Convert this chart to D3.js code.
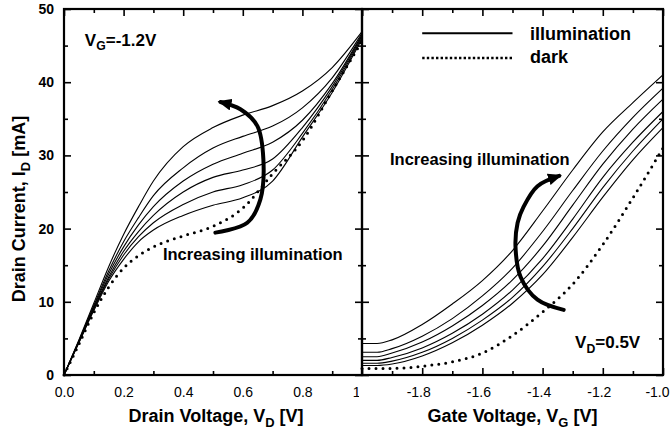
<!DOCTYPE html>
<html>
<head>
<meta charset="utf-8">
<script src="https://cdn.jsdelivr.net/npm/d3@7"></script>
<style>
body { margin: 0; background: #fff; }
text { font-family: "Liberation Sans", Arial, Helvetica, sans-serif; fill: #000; }
</style>
</head>
<body>
<svg id="chart" width="670" height="434"></svg>
<script>
// left panel: drain sweep at V_G = -1.2 V
var vd = [0, 0.05, 0.1, 0.15, 0.2, 0.25, 0.3, 0.4, 0.5, 0.6, 0.7, 0.8, 0.9, 1.0];
var idLight1 = [0, 4.4, 8.8, 12.8, 15.8, 18.2, 19.8, 21.8, 23.2, 24.2, 26.5, 32.5, 38.6, 45.9];
var idLight2 = [0, 4.5, 9.0, 13.1, 16.4, 18.9, 20.8, 23.3, 25.0, 26.0, 28.0, 33.0, 39.0, 46.1];
var idLight3 = [0, 4.5, 9.1, 13.4, 16.9, 19.6, 21.8, 25.0, 27.0, 28.0, 29.5, 33.8, 39.4, 46.3];
var idLight4 = [0, 4.6, 9.3, 13.8, 17.5, 20.5, 23.0, 26.5, 28.8, 30.3, 31.8, 34.8, 39.8, 46.5];
var idLight5 = [0, 4.7, 9.5, 14.2, 18.2, 21.5, 24.5, 28.3, 31.0, 32.6, 34.0, 36.5, 40.6, 46.7];
var idLight6 = [0, 4.8, 9.8, 14.8, 19.2, 23.0, 26.5, 31.2, 33.8, 35.5, 36.8, 38.8, 42.0, 46.9];
var idDark   = [0, 4.2, 8.5, 12.0, 14.6, 16.3, 17.5, 19.0, 20.3, 22.8, 27.5, 32.0, 38.8, 45.6];

// right panel: gate sweep at V_D = 0.5 V
var vg = [-2.0, -1.95, -1.9, -1.8, -1.7, -1.6, -1.5, -1.4, -1.3, -1.2, -1.1, -1.0];
var igLight1 = [1.3, 1.3, 1.5, 2.6, 4.4, 6.8, 9.8, 13.7, 18.8, 24.3, 29.4, 33.8];
var igLight2 = [1.6, 1.6, 1.9, 3.1, 5.0, 7.5, 10.6, 14.8, 20.0, 25.6, 30.6, 35.0];
var igLight3 = [2.0, 2.0, 2.4, 3.7, 5.7, 8.3, 11.6, 15.9, 21.3, 27.0, 31.8, 36.0];
var igLight4 = [2.5, 2.5, 3.0, 4.5, 6.7, 9.5, 13.0, 17.6, 23.2, 28.8, 33.6, 37.7];
var igLight5 = [3.1, 3.1, 3.6, 5.3, 7.7, 10.8, 14.6, 19.6, 25.2, 30.6, 35.2, 39.2];
var igLight6 = [4.3, 4.3, 4.8, 6.9, 9.7, 12.9, 17.0, 22.4, 28.0, 33.2, 37.2, 41.0];
var igDark   = [0.9, 0.9, 0.9, 1.2, 1.8, 3.0, 5.4, 8.6, 12.4, 17.8, 24.2, 31.0];

// ticks
var vdTicks = [0, 0.2, 0.4, 0.6, 0.8, 1.0];
var vdTickLabels = ["0.0", "0.2", "0.4", "0.6", "0.8", "1.0"];
var vdMinor = [0.1, 0.3, 0.5, 0.7, 0.9];
var vgTicks = [-2.0, -1.8, -1.6, -1.4, -1.2, -1.0];
var vgTickLabels = ["", "-1.8", "-1.6", "-1.4", "-1.2", "-1.0"];
var vgMinor = [-1.9, -1.7, -1.5, -1.3, -1.1];
var idTicks = [0, 10, 20, 30, 40, 50];
var idMinor = [5, 15, 25, 35, 45];

// curved "increasing illumination" arrows (data units)
var arrowLeft = [[0.508, 19.45], [0.615, 20.8], [0.659, 24], [0.669, 29.5], [0.649, 34], [0.592, 36.3], [0.525, 37.3]];
var arrowRight = [[-1.33, 8.9], [-1.417, 10.3], [-1.473, 13.4], [-1.49, 17.5], [-1.483, 20.8], [-1.463, 23], [-1.417, 25.8], [-1.345, 27.2]];

var svg = d3.select("#chart");
svg.append("rect").attr("width", 670).attr("height", 434).attr("fill", "#fff");

var xL = d3.scaleLinear().domain([0, 1]).range([64, 362]);
var xR = d3.scaleLinear().domain([-2, -1]).range([362, 663]);
var y = d3.scaleLinear().domain([0, 50]).range([375, 9]);

var defs = svg.append("defs");
defs.append("clipPath").attr("id", "leftLabels")
  .append("rect").attr("x", 0).attr("y", 0).attr("width", 359).attr("height", 434);
defs.append("marker")
  .attr("id", "head")
  .attr("markerUnits", "userSpaceOnUse")
  .attr("viewBox", "0 -6 14 12")
  .attr("refX", 11).attr("refY", 0)
  .attr("markerWidth", 14).attr("markerHeight", 12)
  .attr("orient", "auto")
  .append("path").attr("d", "M0,-6L14,0L0,6Z").attr("fill", "#000");

function styleAxis(g, fontSize, bold) {
  g.select(".domain").remove();
  g.selectAll(".tick line").attr("stroke", "#000").attr("stroke-width", 1.6);
  g.selectAll("text")
    .style("font-size", fontSize + "px")
    .style("font-weight", bold ? "bold" : "normal")
    .attr("fill", "#000");
}

function noLabel() { return ""; }

// ---- left panel axes ----
var gxL = svg.append("g").attr("transform", "translate(0,375)").attr("clip-path", "url(#leftLabels)")
  .call(d3.axisBottom(xL).tickValues(vdTicks).tickSize(-7).tickPadding(12)
    .tickFormat(function(d, i) { return vdTickLabels[i]; }));
styleAxis(gxL, 14, false);
styleAxis(svg.append("g").attr("transform", "translate(0,375)")
  .call(d3.axisBottom(xL).tickValues(vdMinor).tickSize(-4).tickFormat(noLabel)), 10, false);
styleAxis(svg.append("g").attr("transform", "translate(0,9)")
  .call(d3.axisTop(xL).tickValues(vdTicks).tickSize(-7).tickFormat(noLabel)), 10, false);
styleAxis(svg.append("g").attr("transform", "translate(0,9)")
  .call(d3.axisTop(xL).tickValues(vdMinor).tickSize(-4).tickFormat(noLabel)), 10, false);

styleAxis(svg.append("g").attr("transform", "translate(64,0)")
  .call(d3.axisLeft(y).tickValues(idTicks).tickSize(-7).tickPadding(10).tickFormat(d3.format("d"))), 14, true);
styleAxis(svg.append("g").attr("transform", "translate(64,0)")
  .call(d3.axisLeft(y).tickValues(idMinor).tickSize(-4).tickFormat(noLabel)), 10, false);
styleAxis(svg.append("g").attr("transform", "translate(362,0)")
  .call(d3.axisRight(y).tickValues(idTicks).tickSize(-7).tickFormat(noLabel)), 10, false);
styleAxis(svg.append("g").attr("transform", "translate(362,0)")
  .call(d3.axisRight(y).tickValues(idMinor).tickSize(-4).tickFormat(noLabel)), 10, false);

// ---- right panel axes ----
var gxR = svg.append("g").attr("transform", "translate(0,375)")
  .call(d3.axisBottom(xR).tickValues(vgTicks).tickSize(-7).tickPadding(12)
    .tickFormat(function(d, i) { return vgTickLabels[i]; }));
styleAxis(gxR, 14, false);
gxR.selectAll("text").attr("dx", "-4");
// last label sits at the picture edge: keep it inside
gxR.selectAll(".tick").filter(function(d) { return d === -1.0; }).select("text")
  .attr("text-anchor", "end").attr("dx", null).attr("x", 670 - xR(-1.0) - 1);
styleAxis(svg.append("g").attr("transform", "translate(0,375)")
  .call(d3.axisBottom(xR).tickValues(vgMinor).tickSize(-4).tickFormat(noLabel)), 10, false);
styleAxis(svg.append("g").attr("transform", "translate(0,9)")
  .call(d3.axisTop(xR).tickValues(vgTicks).tickSize(-7).tickFormat(noLabel)), 10, false);
styleAxis(svg.append("g").attr("transform", "translate(0,9)")
  .call(d3.axisTop(xR).tickValues(vgMinor).tickSize(-4).tickFormat(noLabel)), 10, false);
styleAxis(svg.append("g").attr("transform", "translate(362,0)")
  .call(d3.axisLeft(y).tickValues(idTicks).tickSize(-7).tickFormat(noLabel)), 10, false);
styleAxis(svg.append("g").attr("transform", "translate(362,0)")
  .call(d3.axisLeft(y).tickValues(idMinor).tickSize(-4).tickFormat(noLabel)), 10, false);
styleAxis(svg.append("g").attr("transform", "translate(663,0)")
  .call(d3.axisRight(y).tickValues(idTicks).tickSize(-7).tickFormat(noLabel)), 10, false);
styleAxis(svg.append("g").attr("transform", "translate(663,0)")
  .call(d3.axisRight(y).tickValues(idMinor).tickSize(-4).tickFormat(noLabel)), 10, false);

// frames
svg.append("rect").attr("x", xL(0)).attr("y", y(50))
  .attr("width", xL(1) - xL(0)).attr("height", y(0) - y(50))
  .attr("fill", "none").attr("stroke", "#000").attr("stroke-width", 2.2);
svg.append("rect").attr("x", xR(-2)).attr("y", y(50))
  .attr("width", xR(-1) - xR(-2)).attr("height", y(0) - y(50))
  .attr("fill", "none").attr("stroke", "#000").attr("stroke-width", 2.2);

// ---- curves ----
var lineL = d3.line().x(function(d, i) { return xL(vd[i]); }).y(function(d) { return y(d); }).curve(d3.curveMonotoneX);
var lineR = d3.line().x(function(d, i) { return xR(vg[i]); }).y(function(d) { return y(d); }).curve(d3.curveMonotoneX);

svg.append("g").selectAll("path")
  .data([idLight1, idLight2, idLight3, idLight4, idLight5, idLight6])
  .enter().append("path")
  .attr("d", lineL).attr("fill", "none").attr("stroke", "#000").attr("stroke-width", 1.1);
svg.append("path").datum(idDark).attr("d", lineL)
  .attr("fill", "none").attr("stroke", "#000").attr("stroke-width", 3)
  .attr("stroke-linecap", "round").attr("stroke-dasharray", "0,7");

svg.append("g").selectAll("path")
  .data([igLight1, igLight2, igLight3, igLight4, igLight5, igLight6])
  .enter().append("path")
  .attr("d", lineR).attr("fill", "none").attr("stroke", "#000").attr("stroke-width", 1.1);
svg.append("path").datum(igDark).attr("d", lineR)
  .attr("fill", "none").attr("stroke", "#000").attr("stroke-width", 3)
  .attr("stroke-linecap", "round").attr("stroke-dasharray", "0,7");

// ---- arrows ----
var arrowLineL = d3.line().x(function(d) { return xL(d[0]); }).y(function(d) { return y(d[1]); }).curve(d3.curveCatmullRom);
var arrowLineR = d3.line().x(function(d) { return xR(d[0]); }).y(function(d) { return y(d[1]); }).curve(d3.curveCatmullRom);
svg.append("path").datum(arrowLeft).attr("d", arrowLineL)
  .attr("fill", "none").attr("stroke", "#000").attr("stroke-width", 4)
  .attr("stroke-linecap", "round").attr("marker-end", "url(#head)");
svg.append("path").datum(arrowRight).attr("d", arrowLineR)
  .attr("fill", "none").attr("stroke", "#000").attr("stroke-width", 4)
  .attr("stroke-linecap", "round").attr("marker-end", "url(#head)");

// ---- text ----
function subText(x, yy, size, parts) {
  var t = svg.append("text").attr("x", x).attr("y", yy)
    .style("font-size", size + "px").style("font-weight", "bold");
  parts.forEach(function(p) {
    if (p.sub) {
      t.append("tspan").attr("dy", size * 0.28).style("font-size", (size * 0.72) + "px").text(p.s);
    } else {
      t.append("tspan").attr("dy", p.after ? -size * 0.28 : 0).text(p.s);
    }
  });
  return t;
}

subText(xL(0.07), y(45), 17, [{ s: "V" }, { s: "G", sub: true }, { s: "=-1.2V", after: true }]);
subText(xR(-1.292), y(3.7), 17, [{ s: "V" }, { s: "D", sub: true }, { s: "=0.5V", after: true }]);

svg.append("text").attr("x", xL(0.332)).attr("y", y(15.7))
  .style("font-size", "16.5px").style("font-weight", "bold").text("Increasing illumination");
svg.append("text").attr("x", xR(-1.907)).attr("y", y(28.7))
  .style("font-size", "16.5px").style("font-weight", "bold").text("Increasing illumination");

// legend
svg.append("line").attr("x1", xR(-1.80)).attr("x2", xR(-1.50)).attr("y1", y(46.7)).attr("y2", y(46.7))
  .attr("stroke", "#000").attr("stroke-width", 2);
svg.append("line").attr("x1", xR(-1.80)).attr("x2", xR(-1.50)).attr("y1", y(43.3)).attr("y2", y(43.3))
  .attr("stroke", "#000").attr("stroke-width", 2.6).attr("stroke-dasharray", "2.4,2.2");
svg.append("text").attr("x", xR(-1.442)).attr("y", y(45.8))
  .style("font-size", "18px").style("font-weight", "bold").text("illumination");
svg.append("text").attr("x", xR(-1.442)).attr("y", y(42.6))
  .style("font-size", "18px").style("font-weight", "bold").text("dark");

// axis titles
function axisTitle(x, yy, size, main, sub, tail, rotate) {
  var t = svg.append("text").attr("text-anchor", "middle")
    .attr("transform", "translate(" + x + "," + yy + ")" + (rotate ? " rotate(-90)" : ""))
    .style("font-size", size + "px").style("font-weight", "bold");
  t.append("tspan").text(main);
  t.append("tspan").attr("dy", size * 0.3).style("font-size", (size * 0.72) + "px").text(sub);
  t.append("tspan").attr("dy", -size * 0.3).text(tail);
}
axisTitle((xL(0) + xL(1)) / 2 + 3, 422, 18, "Drain Voltage, V", "D", " [V]", false);
axisTitle((xR(-2) + xR(-1)) / 2, 422, 18, "Gate Voltage, V", "G", " [V]", false);
axisTitle(25, (y(0) + y(50)) / 2 + 17, 18, "Drain Current, I", "D", " [mA]", true);
</script>
</body>
</html>
